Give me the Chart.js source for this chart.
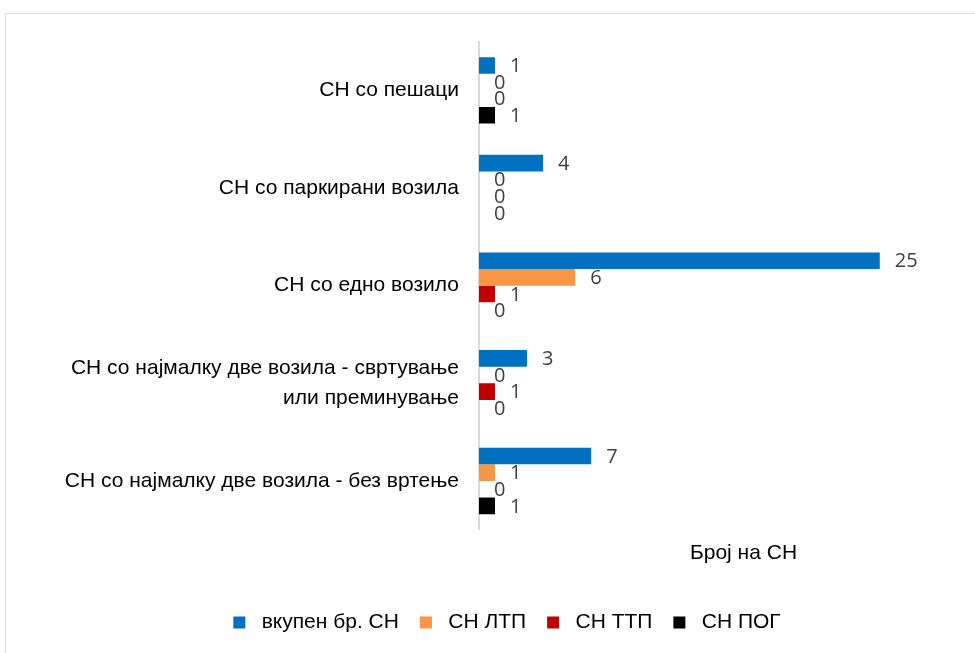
<!DOCTYPE html>
<html lang="mk">
<head>
<meta charset="UTF-8">
<title>Број на СН</title>
<script src="https://cdn.jsdelivr.net/npm/chart.js"></script>
<style>
    html, body {
        margin: 0;
        padding: 0;
        background: #fff;
        overflow: hidden;
    }
    #frame {
        position: absolute;
        left: 5px;
        top: 13px;
        width: 1012px;
        height: 660px;
        border: 1.5px solid #d9d9d9;
        box-sizing: border-box;
    }
    #chart {
        display: block;
    }
</style>
</head>
<body>
<div id="frame">
    <canvas id="chart" width="1009" height="657"></canvas>
</div>

<script>
    // categories, top to bottom as in the picture
    const categories = [
        'СН со пешаци',
        'СН со паркирани возила',
        'СН со едно возило',
        ['СН со најмалку две возила - свртување', 'или преминување'],
        'СН со најмалку две возила - без вртење'
    ];

    const seriesNames = ['вкупен бр. СН', 'СН ЛТП', 'СН ТТП', 'СН ПОГ'];
    const vkupen = [1, 4, 25, 3, 7];
    const ltp = [0, 0, 6, 0, 1];
    const ttp = [0, 0, 1, 1, 0];
    const pog = [1, 0, 0, 0, 1];
    const colors = ['#0070C0', '#F79646', '#C00000', '#000000'];

    const axisTitle = 'Број на СН';

    const textFont = '"Liberation Sans", Arial, sans-serif';

    // vrednosti pokraj stolbovite
    const valueLabels = {
        id: 'valueLabels',
        afterDatasetsDraw(chart) {
            const ctx = chart.ctx;
            ctx.save();
            ctx.font = '20px "Open Sans", sans-serif';
            ctx.fillStyle = '#404040';
            ctx.textAlign = 'left';
            ctx.textBaseline = 'middle';
            chart.data.datasets.forEach((ds, i) => {
                const meta = chart.getDatasetMeta(i);
                meta.data.forEach((bar, j) => {
                    ctx.fillText(String(ds.data[j]), bar.x + 15, bar.y + 1);
                });
            });
            ctx.restore();
        }
    };

    const allSeries = [vkupen, ltp, ttp, pog];

    new Chart(document.getElementById('chart'), {
        type: 'bar',
        data: {
            labels: categories,
            datasets: allSeries.map((vals, i) => ({
                label: seriesNames[i],
                data: vals,
                backgroundColor: colors[i],
                borderWidth: 0,
                categoryPercentage: 0.68,
                barPercentage: 1.0
            }))
        },
        options: {
            indexAxis: 'y',
            responsive: false,
            animation: false,
            layout: {
                padding: { top: 27.5, right: 7, bottom: 28, left: 0 }
            },
            scales: {
                x: {
                    min: 0,
                    max: 33,
                    grid: { display: false, drawTicks: false },
                    border: { display: false },
                    ticks: { display: false },
                    title: {
                        display: true,
                        text: axisTitle,
                        color: '#000',
                        font: { family: textFont, size: 21 },
                        padding: { top: 11, bottom: 25 }
                    }
                },
                y: {
                    grid: { display: false, drawTicks: false },
                    border: { display: true, color: '#d9d9d9', width: 2 },
                    ticks: {
                        color: '#000',
                        padding: 20,
                        font: { family: textFont, size: 21, lineHeight: 1.4 }
                    },
                    afterFit(scale) {
                        scale.width = 473;
                        scale.paddingTop = 0;
                        scale.paddingBottom = 0;
                    }
                }
            },
            plugins: {
                legend: {
                    position: 'bottom',
                    labels: {
                        boxWidth: 12,
                        boxHeight: 12,
                        padding: 21,
                        color: '#000',
                        font: { family: textFont, size: 21 },
                        generateLabels(chart) {
                            // malo pogolemo rastojanie megju kvadratceto i tekstot
                            const items = Chart.defaults.plugins.legend.labels.generateLabels(chart);
                            items.forEach(it => { it.text = ' ' + it.text; });
                            return items;
                        }
                    }
                },
                tooltip: { enabled: false }
            }
        },
        plugins: [valueLabels]
    });
</script>
</body>
</html>
